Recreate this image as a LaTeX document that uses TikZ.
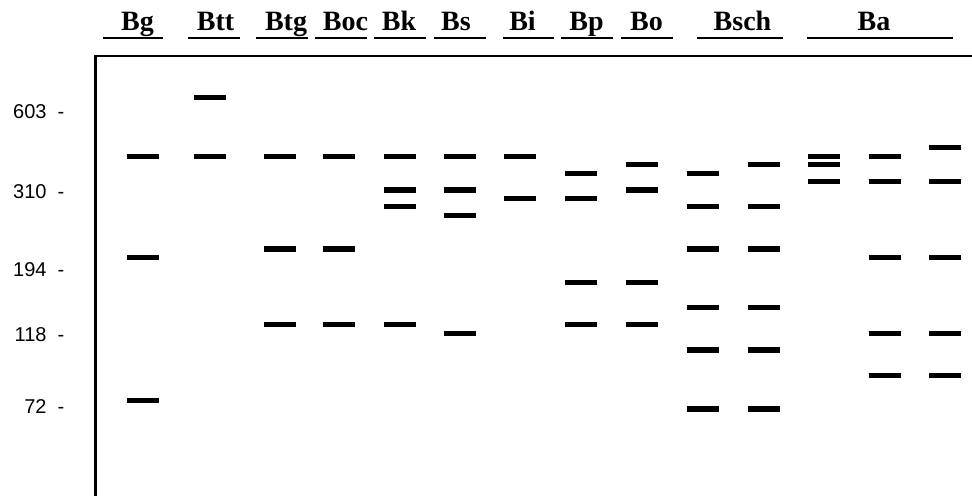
\documentclass[tikz,border=0pt]{standalone}
\usepackage{fontspec}
\setmainfont{Liberation Serif}
\newfontfamily\axisfont{Liberation Sans}
\usepackage{tikz}

\begin{document}
\begin{tikzpicture}[x=0.75pt,y=-0.75pt,
    band/.style={line width=3.9pt},
    lanelabel/.style={font=\fontsize{21}{21}\selectfont\bfseries,anchor=base,inner sep=0pt},
    sizelabel/.style={font=\axisfont\fontsize{15}{15}\selectfont,anchor=east,inner sep=0pt}]
    \useasboundingbox (0,0) rectangle (972,496);

    % Draw gel frame
    \draw[line width=2pt] (95.5,496) -- (95.5,56) -- (972,56);

    % Lane names with their underlines
    \foreach \name/\x/\a/\b in {Bg/137.5/103/163, Btt/215.5/188/240, Btg/286/256/308,
        Boc/345.5/315/367, Bk/399/374/426, Bs/456/434/486, Bi/522.5/503/554,
        Bp/586.5/561/613, Bo/646.5/621/673, Bsch/742.5/697/783, Ba/874/807/953} {
        \node[lanelabel] (\name) at (\x,30.7) {\name};
        \draw[line width=1pt] (\a,38) -- (\b,38);
    }

    % Size marker labels
    \node[sizelabel] (s603) at (64.5,111.7) {603\hspace{0.55em}-};
    \node[sizelabel] (s310) at (64.5,191.7) {310\hspace{0.55em}-};
    \node[sizelabel] (s194) at (64.5,270) {194\hspace{0.55em}-};
    \node[sizelabel] (s118) at (64.5,335) {118\hspace{0.55em}-};
    \node[sizelabel] (s72) at (64.5,406.7) {72\hspace{0.55em}-};

    % Draw bands, one row step is 8.42
    \foreach \x/\rows in {143/{0,12,29}, 210/{-7,0}, 279.5/{0,11,20}, 338.5/{0,11,20},
        399.5/{0,4,6,20}, 460/{0,4,7,21}, 520/{0,5}, 581/{2,5,15,20}, 642/{1,4,15,20},
        702.5/{2,6,11,18,23,30}, 763.5/{1,6,11,18,23,30}, 823.5/{0,1,3},
        884.5/{0,3,12,21,26}, 945/{-1,3,12,21,26}} {
        \foreach \k in \rows {
            \draw[band] (\x-16,156.3+8.42*\k) -- (\x+16,156.3+8.42*\k);
        }
    }
\end{tikzpicture}
\end{document}
